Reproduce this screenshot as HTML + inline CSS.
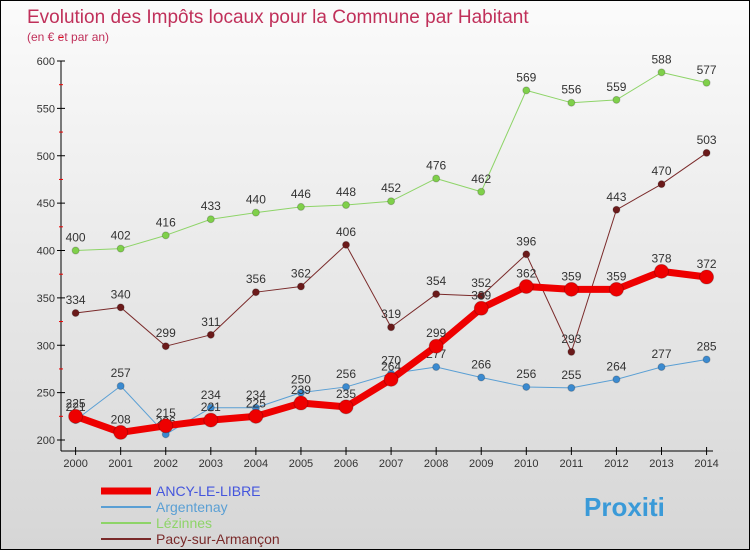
<!DOCTYPE html>
<html><head><meta charset="utf-8"><style>
body{margin:0}
#c{width:748px;height:548px;border:1px solid #000;background:linear-gradient(#fbfbfb,#d6d6d6);position:relative;font-family:"Liberation Sans",sans-serif;overflow:hidden}
</style></head><body>
<div id="c">
<svg id="s" width="748" height="548" xmlns="http://www.w3.org/2000/svg">
<text x="26" y="22" font-size="19" fill="#c0305a">Evolution des Impôts locaux pour la Commune par Habitant</text>
<text x="26" y="40" font-size="12" fill="#c0305a">(en € et par an)</text>
</svg>
</div>
<script>
const years=[2000,2001,2002,2003,2004,2005,2006,2007,2008,2009,2010,2011,2012,2013,2014];
const ancy=[225,208,215,221,225,239,235,264,299,339,362,359,359,378,372];
const argentenay=[221,257,206,234,234,250,256,270,277,266,256,255,264,277,285];
const lezinnes=[400,402,416,433,440,446,448,452,476,462,569,556,559,588,577];
const pacy=[334,340,299,311,356,362,406,319,354,352,396,293,443,470,503];
const yTicks=[200,250,300,350,400,450,500,550,600];
const NS="http://www.w3.org/2000/svg";
const s=document.getElementById('s');
const X=i=>74.6+i*45.07;
const Y=v=>439-(v-200)*0.9475;
function el(t,a,p){const e=document.createElementNS(NS,t);for(const k in a)e.setAttribute(k,a[k]);(p||s).appendChild(e);return e;}
let ax=el('line',{x1:60,y1:60,x2:60,y2:450,stroke:'#000'});


let bx=el('line',{x1:60,y1:450,x2:712,y2:450,stroke:'#000'});


yTicks.forEach(v=>{
 el('line',{x1:56,y1:Y(v),x2:64,y2:Y(v),stroke:'#000'});
 el('line',{x1:58,y1:Y(v+25),x2:62,y2:Y(v+25),stroke:'#e00'});
 const t=el('text',{x:54,y:Y(v)+4,'font-size':11,'text-anchor':'end',fill:'#333'});t.textContent=v;
 
 
});
years.forEach((y,i)=>{
 el('line',{x1:X(i),y1:446,x2:X(i),y2:454,stroke:'#000'});
 const t=el('text',{x:X(i),y:466,'font-size':11,'text-anchor':'middle',fill:'#333'});t.textContent=y;
 
 
});
function series(d,color,w,r,name,dot){
 const g=el('g',{});
 
 
 el('polyline',{points:d.map((v,i)=>X(i)+','+Y(v)).join(' '),fill:'none',stroke:color,'stroke-width':w,'stroke-linejoin':'round'},g);
 d.forEach((v,i)=>{
  const c=el('circle',{cx:X(i),cy:Y(v),r:r,fill:dot,stroke:'#0003'},g);
  
  
  const t=el('text',{x:X(i),y:Y(v)-9,'font-size':12,'text-anchor':'middle',fill:'#333'},g);t.textContent=v;
 });
}
series(lezinnes,'#8ed468',1,3.5,'lezinnes','#7fd04a');
series(pacy,'#7a2a2a',1,3.5,'pacy','#6b1a1a');
series(argentenay,'#5a9fd4',1,3.5,'argentenay','#3a8ad0');
series(ancy,'#ee0000',7,7,'ancy','#ee0000');
const leg=[['ANCY-LE-LIBRE','#ee0000',7,'#4455dd'],['Argentenay','#5a9fd4',2,'#5a9fd4'],['Lézinnes','#8ed468',2,'#8ed468'],['Pacy-sur-Armançon','#7a2a2a',2,'#7a2a2a']];
leg.forEach((l,i)=>{
 const g=el('g',{});
 
 
 const yy=490+i*16;
 el('line',{x1:100,y1:yy,x2:150,y2:yy,stroke:l[1],'stroke-width':l[2]},g);
 const t=el('text',{x:155,y:yy+5,'font-size':14,fill:l[3]},g);t.textContent=l[0];
});
const p=el('text',{x:583,y:515,'font-size':26,'font-weight':'bold',fill:'#3a9ad8'});p.textContent='Proxiti';


</script>
</body></html>
